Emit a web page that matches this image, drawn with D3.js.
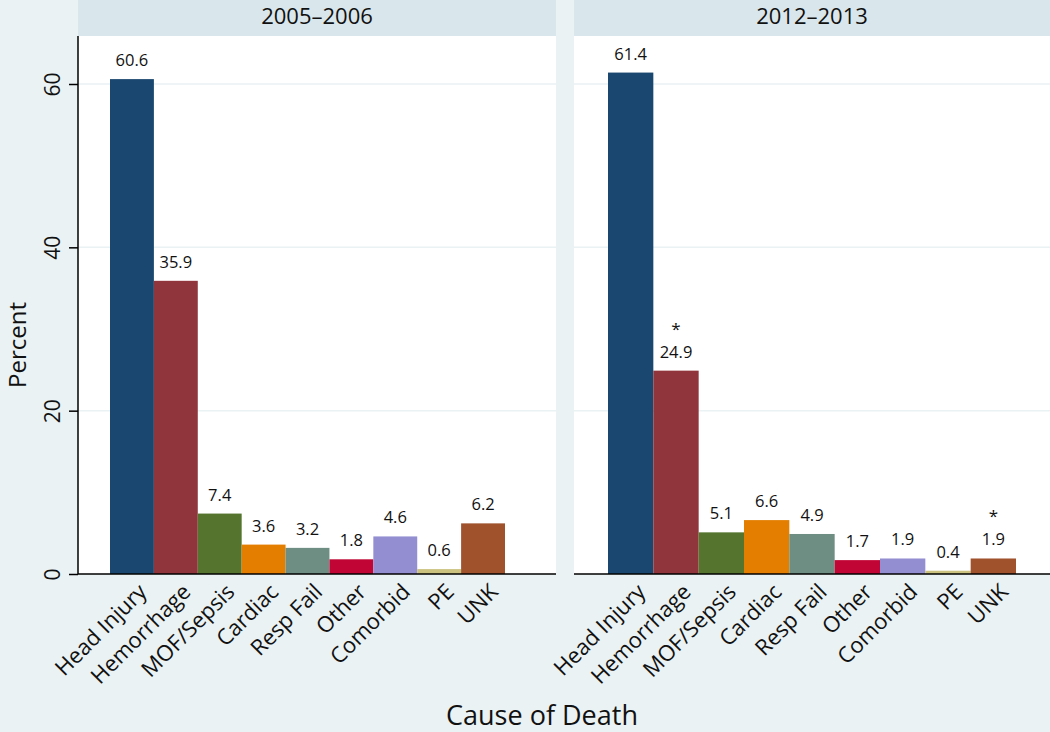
<!DOCTYPE html>
<html><head><meta charset="utf-8">
<script src="https://cdn.jsdelivr.net/npm/d3@7"></script>
<style>body{margin:0;background:#eaf2f3;}svg{display:block;}</style>
</head><body>
<script>
const categories = ["Head Injury","Hemorrhage","MOF/Sepsis","Cardiac","Resp Fail","Other","Comorbid","PE","UNK"];
const panels = ["2005\u20132006","2012\u20132013"];
const values2005 = [60.6,35.9,7.4,3.6,3.2,1.8,4.6,0.6,6.2];
const values2012 = [61.4,24.9,5.1,6.6,4.9,1.7,1.9,0.4,1.9];
const stars2005 = [false,false,false,false,false,false,false,false,false];
const stars2012 = [false,true,false,false,false,false,false,false,true];
const yTicks = [0,20,40,60];
const colors = ["#1a476f","#90353b","#55752f","#e37e00","#6e8e84","#c10534","#938dd2","#cac27e","#a0522d"];

(function(){
const W=1050,H=732;
const font="'Open Sans', sans-serif";
const svg=d3.select("body").append("svg").attr("width",W).attr("height",H);
svg.append("rect").attr("width",W).attr("height",H).attr("fill","#eaf2f3");

const plotTop=36, plotBottom=574;
const y=d3.scaleLinear().domain([0,60]).range([plotBottom,84]);
const panelDefs=[
  {x0:78,x1:556,bx0:110,bx1:505,vals:values2005,stars:stars2005,title:panels[0]},
  {x0:574,x1:1050,bx0:608,bx1:1016,vals:values2012,stars:stars2012,title:panels[1]}
];

panelDefs.forEach((p,pi)=>{
  const g=svg.append("g");
  g.append("rect").attr("x",p.x0).attr("y",0).attr("width",p.x1-p.x0).attr("height",plotTop).attr("fill","#d9e6eb");
  g.append("text").attr("x",(p.x0+p.x1)/2).attr("y",23.5).attr("text-anchor","middle")
    .attr("font-family",font).attr("font-size",22).attr("fill","#111").text(p.title);
  g.append("rect").attr("x",p.x0).attr("y",plotTop).attr("width",p.x1-p.x0).attr("height",plotBottom-plotTop).attr("fill","#fff");
  g.selectAll("line.grid").data(yTicks.filter(d=>d>0)).join("line").attr("class","grid")
    .attr("x1",p.x0).attr("x2",p.x1).attr("y1",d=>y(d)).attr("y2",d=>y(d))
    .attr("stroke","#eaf2f3").attr("stroke-width",1.5);
  const x=d3.scaleBand().domain(categories).range([p.bx0,p.bx1]).padding(0);
  g.selectAll("rect.bar").data(p.vals).join("rect").attr("class","bar")
    .attr("x",(d,i)=>x(categories[i])).attr("width",x.bandwidth())
    .attr("y",d=>y(d)).attr("height",d=>plotBottom-y(d)).attr("fill",(d,i)=>colors[i]);
  g.selectAll("text.val").data(p.vals).join("text").attr("class","val")
    .attr("x",(d,i)=>x(categories[i])+x.bandwidth()/2).attr("y",d=>y(d)-13)
    .attr("text-anchor","middle").attr("font-family",font).attr("font-size",16.5).attr("fill","#111")
    .text(d=>d.toFixed(1));
  g.selectAll("text.star").data(p.vals.map((v,i)=>({v,i})).filter(o=>p.stars[o.i])).join("text").attr("class","star")
    .attr("x",o=>x(categories[o.i])+x.bandwidth()/2).attr("y",o=>y(o.v)-36)
    .attr("text-anchor","middle").attr("font-family",font).attr("font-size",17).attr("fill","#111")
    .text("*");
  g.append("line").attr("x1",p.x0).attr("x2",p.x1).attr("y1",plotBottom).attr("y2",plotBottom).attr("stroke","#000").attr("stroke-width",1.5);
  g.selectAll("text.cat").data(categories).join("text").attr("class","cat")
    .attr("transform",d=>`translate(${x(d)+x.bandwidth()/2+5},${plotBottom+8}) rotate(-45)`)
    .attr("text-anchor","end").attr("dy","0.72em").attr("font-family",font).attr("font-size",22).attr("fill","#111")
    .text(d=>d);
  if(pi===0){
    const ax=svg.append("g").attr("transform",`translate(${p.x0},0)`).call(d3.axisLeft(y).tickValues(yTicks).tickSize(9).tickFormat(d3.format("d")));
    ax.select(".domain").attr("d",`M0,${plotTop}V${plotBottom}`).attr("stroke-width",1.5);
    ax.selectAll(".tick line").attr("stroke-width",1.5);
    ax.selectAll(".tick text").attr("font-family",font).attr("font-size",21).attr("fill","#111")
      .attr("x",0).attr("dy",0).attr("text-anchor","middle")
      .attr("transform","translate(-18,0) rotate(-90)");
  }
});

svg.append("text").attr("x",542).attr("y",725).attr("text-anchor","middle")
  .attr("font-family",font).attr("font-size",27).attr("fill","#111").text("Cause of Death");
svg.append("text").attr("transform","translate(26,345) rotate(-90)").attr("text-anchor","middle")
  .attr("font-family",font).attr("font-size",24).attr("fill","#111").text("Percent");
})();
</script>
</body></html>
